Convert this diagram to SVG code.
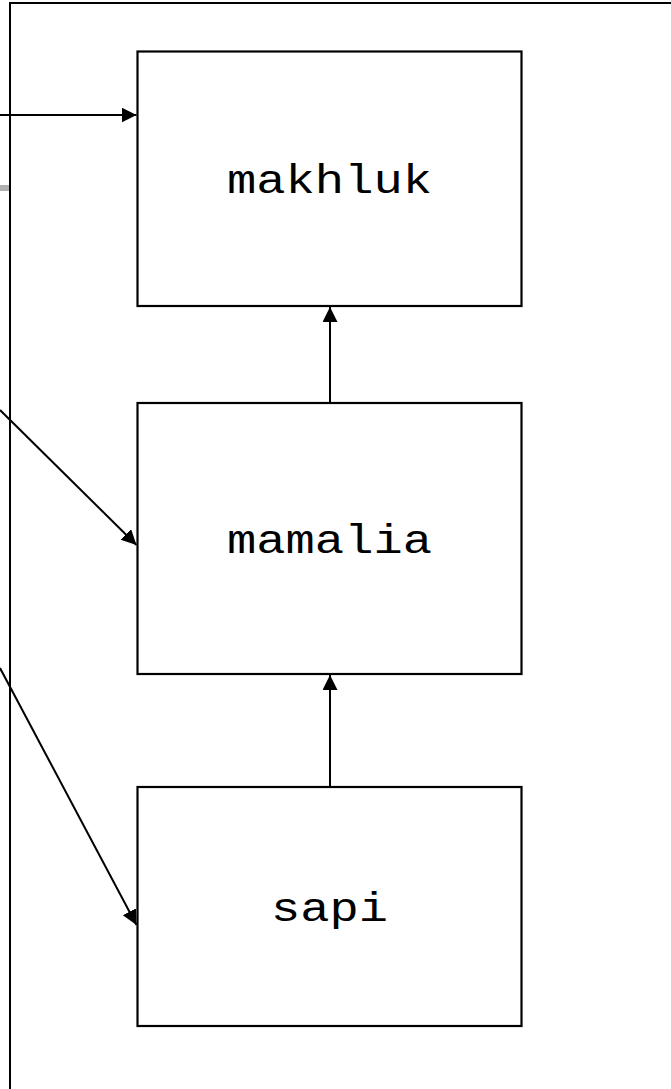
<svg xmlns="http://www.w3.org/2000/svg" width="671" height="1089" viewBox="0 0 671 1089">
  <style>
    .frame { fill: none; stroke: #000; stroke-width: 2; }
    .box { fill: #fff; stroke: #000; stroke-width: 2.2; }
    .label { font-family: "Liberation Mono", "Courier New", monospace; font-size: 40px; fill: #000; text-anchor: middle; }
    .conn { fill: none; stroke: #000; stroke-width: 2; marker-end: url(#arrow); }
  </style>
  <defs>
    <marker id="arrow" markerUnits="userSpaceOnUse" markerWidth="16" markerHeight="16" refX="15" refY="7.5" orient="auto">
      <path d="M0,0 L15,7.5 L0,15 z" fill="#000"/>
    </marker>
  </defs>
  <rect width="671" height="1089" fill="#fff"/>

  <!-- outer frame, open to the right and bottom -->
  <path class="frame" d="M10,1089 V3 H671"/>
  <rect x="0" y="185" width="9" height="6" fill="#b0b0b0"/>

  <g id="node-makhluk">
    <rect class="box" x="137.5" y="51.5" width="384" height="254.5"/>
    <text class="label" x="329.5" y="193" textLength="205" lengthAdjust="spacingAndGlyphs">makhluk</text>
  </g>
  <g id="node-mamalia">
    <rect class="box" x="137.5" y="403" width="384" height="271"/>
    <text class="label" x="329.5" y="553" textLength="205" lengthAdjust="spacingAndGlyphs">mamalia</text>
  </g>
  <g id="node-sapi">
    <rect class="box" x="137.5" y="787" width="384" height="239"/>
    <text class="label" x="329.5" y="921" textLength="117" lengthAdjust="spacingAndGlyphs">sapi</text>
  </g>

  <g id="connectors">
    <line class="conn" x1="330" y1="403" x2="330" y2="307"/>
    <line class="conn" x1="330" y1="787" x2="330" y2="675"/>
    <line class="conn" x1="0" y1="115" x2="136.5" y2="115"/>
    <line class="conn" x1="0" y1="410" x2="136.5" y2="545"/>
    <line class="conn" x1="0" y1="668" x2="136.5" y2="925"/>
  </g>
</svg>
